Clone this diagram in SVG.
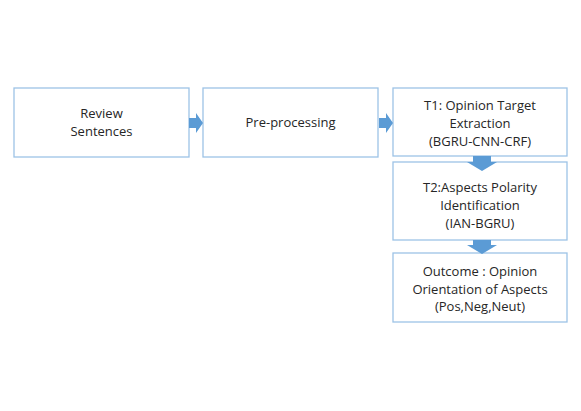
<svg xmlns="http://www.w3.org/2000/svg" width="581" height="411" viewBox="0 0 581 411">
<style>
.box{fill:#fff;stroke:#9dc3e6;stroke-width:1.3}
.t{font-family:"Open Sans","Liberation Sans",sans-serif;font-size:13px;fill:#262626;text-anchor:middle}
.arr{fill:#5b9bd5}
</style>
<rect width="581" height="411" fill="#fff"/>
<g id="n1"><rect class="box" x="14" y="88" width="175" height="69"/><text class="t" x="101.5" y="118">Review</text><text class="t" x="101.5" y="136">Sentences</text></g>
<g id="n2"><rect class="box" x="203" y="88" width="175" height="69"/><text class="t" x="290.5" y="127">Pre-processing</text></g>
<g id="n3"><rect class="box" x="393" y="88" width="174" height="68"/><text class="t" x="480" y="109.5">T1: Opinion Target</text><text class="t" x="480" y="127.5">Extraction</text><text class="t" x="480" y="145.5">(BGRU-CNN-CRF)</text></g>
<g id="n4"><rect class="box" x="393" y="162" width="174" height="78"/><text class="t" x="480" y="192">T2:Aspects Polarity</text><text class="t" x="480" y="210">Identification</text><text class="t" x="480" y="228">(IAN-BGRU)</text></g>
<g id="n5"><rect class="box" x="393" y="253" width="174" height="69"/><text class="t" x="480" y="276">Outcome : Opinion</text><text class="t" x="480" y="293.5">Orientation of Aspects</text><text class="t" x="480" y="311">(Pos,Neg,Neut)</text></g>
<g id="connectors">
<polygon class="arr" points="189,118 196,118 196,113 203,123 196,133 196,128 189,128"/>
<polygon class="arr" points="379,118 386,118 386,113 393,123 386,133 386,128 379,128"/>
<polygon class="arr" points="473,156 491,156 491,162 497,162 482,171 467,162 473,162"/>
<polygon class="arr" points="473,240 491,240 491,245 497,245 482,254 467,245 473,245"/>
</g>
</svg>
